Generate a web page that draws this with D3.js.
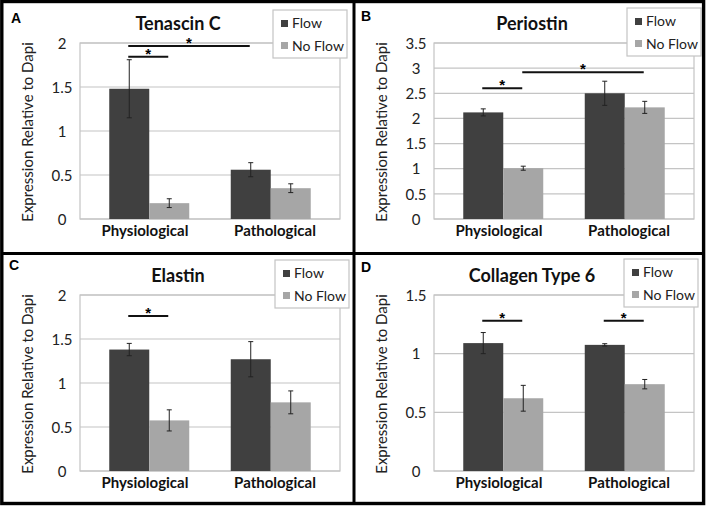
<!DOCTYPE html>
<html>
<head>
<meta charset="utf-8">
<script src="https://cdn.jsdelivr.net/npm/d3@7"></script>
<style>
  html, body { margin: 0; padding: 0; background: #fff; }
  svg { display: block; }
</style>
</head>
<body>
<svg id="chart" width="708" height="508"></svg>
<script>
// ---------- data ----------
const categories = ["Physiological", "Pathological"];
const seriesNames = ["Flow", "No Flow"];
const panelLetters = ["A", "B", "C", "D"];
const panelTitles = ["Tenascin C", "Periostin", "Elastin", "Collagen Type 6"];
const yLabel = "Expression Relative to Dapi";
// per panel: [Physiological, Pathological]
const flowValues   = [[1.48, 0.56], [2.12, 2.50], [1.38, 1.27], [1.09, 1.075]];
const flowErrors   = [[0.33, 0.08], [0.07, 0.24], [0.07, 0.20], [0.09, 0.01]];
const noFlowValues = [[0.18, 0.35], [1.01, 2.22], [0.575, 0.78], [0.62, 0.74]];
const noFlowErrors = [[0.05, 0.05], [0.04, 0.12], [0.12, 0.13], [0.11, 0.04]];
const yTickValues = [
  [0, 0.5, 1, 1.5, 2],
  [0, 0.5, 1, 1.5, 2, 2.5, 3, 3.5],
  [0, 0.5, 1, 1.5, 2],
  [0, 0.5, 1, 1.5]
];
const yTickLabels = [
  ["0", "0.5", "1", "1.5", "2"],
  ["0", "0.5", "1", "1.5", "2", "2.5", "3", "3.5"],
  ["0", "0.5", "1", "1.5", "2"],
  ["0", "0.5", "1", "1.5"]
];
// significance brackets: [category, series] -> [category, series], at value level
const sigBrackets = [
  [{a: [0, 0], b: [0, 1], level: 1.845}, {a: [0, 0], b: [1, 0], level: 1.965}],
  [{a: [0, 0], b: [0, 1], level: 2.60}, {a: [0, 1], b: [1, 1], level: 2.92}],
  [{a: [0, 0], b: [0, 1], level: 1.76}],
  [{a: [0, 0], b: [0, 1], level: 1.28}, {a: [1, 0], b: [1, 1], level: 1.28}]
];

// ---------- layout ----------
const panelOrigins = [[0, 0], [354, 0], [0, 252], [354, 252]];
const letterPos = [[11, 23], [7, 21], [9, 18], [7, 20]];
const legendPos = [[273, 10], [273, 8], [275, 8], [270, 7]];
const plot = {left: 80, right: 340, top: 43, bottom: 219};
const colors = {"Flow": "#404040", "No Flow": "#a6a6a6"};
const gridColor = "#c4c4c4";
const FONT = "Lato, 'Open Sans', sans-serif";

const svg = d3.select("#chart");

svg.append("rect").attr("x", 0).attr("y", 0).attr("width", 708).attr("height", 508).attr("fill", "#fff");

panelOrigins.forEach((orig, p) => {
  const g = svg.append("g").attr("transform", `translate(${orig[0]},${orig[1]})`);
  const yMax = yTickValues[p][yTickValues[p].length - 1];
  const y = d3.scaleLinear().domain([0, yMax]).range([plot.bottom, plot.top]);
  const xCat = d3.scaleBand().domain(categories).range([plot.left, plot.right])
    .paddingInner(0.3416).paddingOuter(0.2408);
  const xLab = d3.scaleBand().domain(categories).range([plot.left, plot.right]);
  const xSer = d3.scaleBand().domain(seriesNames).range([0, xCat.bandwidth()]);

  // gridlines
  g.append("g").selectAll("line").data(yTickValues[p]).join("line")
    .attr("x1", plot.left).attr("x2", plot.right)
    .attr("y1", d => y(d)).attr("y2", d => y(d))
    .attr("stroke", gridColor).attr("stroke-width", 1.2);
  // plot border
  g.append("rect").attr("x", plot.left).attr("y", plot.top)
    .attr("width", plot.right - plot.left).attr("height", plot.bottom - plot.top)
    .attr("fill", "none").attr("stroke", gridColor).attr("stroke-width", 1.2);

  // y axis tick labels
  const yAxis = d3.axisLeft(y).tickValues(yTickValues[p])
    .tickFormat((d, i) => yTickLabels[p][i]).tickSize(0).tickPadding(0);
  const ya = g.append("g").attr("transform", `translate(${plot.left - 18},0)`).call(yAxis);
  ya.select(".domain").remove();
  ya.selectAll("text").attr("text-anchor", "middle").attr("dy", "0.35em")
    .attr("font-family", FONT).attr("font-size", 15).attr("fill", "#222");

  // x axis labels
  const xAxis = d3.axisBottom(xLab).tickSize(0).tickPadding(0);
  const xa = g.append("g").attr("transform", `translate(0,${plot.bottom})`).call(xAxis);
  xa.select(".domain").remove();
  xa.selectAll("text").attr("dy", null).attr("y", 17)
    .attr("font-family", FONT).attr("font-size", 15).attr("font-weight", "bold").attr("fill", "#111");

  // bars
  const rows = [];
  categories.forEach((c, ci) => {
    rows.push({cat: c, ser: "Flow", v: flowValues[p][ci], e: flowErrors[p][ci]});
    rows.push({cat: c, ser: "No Flow", v: noFlowValues[p][ci], e: noFlowErrors[p][ci]});
  });
  const cx = d => xCat(d.cat) + xSer(d.ser) + xSer.bandwidth() / 2;
  g.append("g").selectAll("rect").data(rows).join("rect")
    .attr("x", d => xCat(d.cat) + xSer(d.ser))
    .attr("width", xSer.bandwidth())
    .attr("y", d => y(d.v)).attr("height", d => y(0) - y(d.v))
    .attr("fill", d => colors[d.ser]);

  // error bars
  const eg = g.append("g").attr("stroke", "#222").attr("stroke-width", 1);
  eg.selectAll("line.v").data(rows).join("line").attr("class", "v")
    .attr("x1", cx).attr("x2", cx)
    .attr("y1", d => y(d.v + d.e)).attr("y2", d => y(d.v - d.e));
  eg.selectAll("line.t").data(rows).join("line").attr("class", "t")
    .attr("x1", d => cx(d) - 2.5).attr("x2", d => cx(d) + 2.5)
    .attr("y1", d => y(d.v + d.e)).attr("y2", d => y(d.v + d.e));
  eg.selectAll("line.b").data(rows).join("line").attr("class", "b")
    .attr("x1", d => cx(d) - 2.5).attr("x2", d => cx(d) + 2.5)
    .attr("y1", d => y(d.v - d.e)).attr("y2", d => y(d.v - d.e));

  // significance brackets
  const pos = (ci, si) => xCat(categories[ci]) + xSer(seriesNames[si]) + xSer.bandwidth() / 2;
  const sg = g.append("g");
  sigBrackets[p].forEach(s => {
    const x1 = pos(s.a[0], s.a[1]) - 1, x2 = pos(s.b[0], s.b[1]) - 1;
    sg.append("line").attr("x1", x1).attr("x2", x2)
      .attr("y1", y(s.level)).attr("y2", y(s.level))
      .attr("stroke", "#111").attr("stroke-width", 2);
    sg.append("text").attr("x", (x1 + x2) / 2).attr("y", y(s.level) + 2)
      .attr("text-anchor", "middle").attr("font-family", "'Liberation Sans', Arial, sans-serif")
      .attr("font-size", 15).attr("font-weight", "bold").attr("fill", "#000").text("*");
  });

  // title
  g.append("text").attr("x", 178).attr("y", 30).attr("text-anchor", "middle")
    .attr("font-family", FONT).attr("font-size", 18).attr("font-weight", "bold")
    .attr("fill", "#111").text(panelTitles[p]);

  // y label
  g.append("text").attr("transform", `translate(33,${(plot.top + plot.bottom) / 2 + 1}) rotate(-90)`)
    .attr("text-anchor", "middle").attr("font-family", FONT).attr("font-size", 15)
    .attr("fill", "#222").text(yLabel);

  // panel letter
  g.append("text").attr("x", letterPos[p][0]).attr("y", letterPos[p][1])
    .attr("font-family", "'Liberation Sans', Arial, sans-serif").attr("font-size", 14)
    .attr("font-weight", "bold").attr("fill", "#000").text(panelLetters[p]);

  // legend
  const lg = g.append("g").attr("transform", `translate(${legendPos[p][0]},${legendPos[p][1]})`);
  lg.append("rect").attr("x", 0).attr("y", 0).attr("width", 74).attr("height", 48)
    .attr("fill", "#fff").attr("stroke", gridColor).attr("stroke-width", 1.2);
  seriesNames.forEach((s, i) => {
    lg.append("rect").attr("x", 8).attr("y", 10 + i * 22).attr("width", 7).attr("height", 7)
      .attr("fill", colors[s]);
    lg.append("text").attr("x", 19).attr("y", 18 + i * 23).attr("font-family", FONT)
      .attr("font-size", 14).attr("fill", "#222").text(s);
  });
});

// borders
svg.append("rect").attr("x", 1.8).attr("y", 1.5).attr("width", 701.8).attr("height", 502)
  .attr("fill", "none").attr("stroke", "#000").attr("stroke-width", 3.4);
svg.append("line").attr("x1", 354).attr("x2", 354).attr("y1", 1.5).attr("y2", 503.5)
  .attr("stroke", "#000").attr("stroke-width", 3);
svg.append("line").attr("x1", 1.8).attr("x2", 703.6).attr("y1", 253.5).attr("y2", 253.5)
  .attr("stroke", "#000").attr("stroke-width", 3);
</script>
</body>
</html>
